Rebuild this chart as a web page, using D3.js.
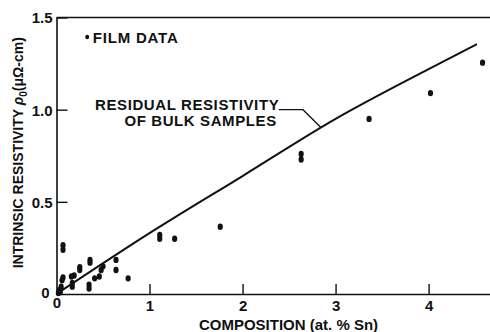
<!DOCTYPE html>
<meta charset="utf-8">
<script src="https://d3js.org/d3.v7.min.js"></script>
<style>
  body { margin: 0; background: #fff; }
  text { font-family: "Liberation Sans", Arial, sans-serif; font-weight: bold; fill: #111; }
</style>
<div id="chart"></div>
<script>
    // film data (composition at.% Sn, intrinsic resistivity)
    const filmX = [0.02, 0.03, 0.05, 0.04, 0.07, 0.07, 0.07, 0.06, 0.16, 0.17, 0.19, 0.17,
        0.25, 0.25, 0.36, 0.36, 0.35, 0.35, 0.41, 0.46, 0.48, 0.50, 0.64, 0.64, 0.77,
        1.11, 1.11, 1.27, 1.76, 2.63, 2.63, 3.36, 4.02, 4.58];
    const filmY = [0.005, 0.02, 0.04, 0.01, 0.265, 0.24, 0.09, 0.075, 0.095, 0.04, 0.10, 0.06,
        0.145, 0.13, 0.185, 0.17, 0.05, 0.03, 0.085, 0.095, 0.13, 0.15, 0.185, 0.13, 0.085,
        0.32, 0.30, 0.30, 0.365, 0.76, 0.73, 0.95, 1.09, 1.255];

    // residual resistivity of bulk samples
    const bulkX = [0, 1, 2, 3, 4, 4.52];
    const bulkY = [0, 0.33, 0.64, 0.95, 1.22, 1.355];

    const xTicks = [0, 1, 2, 3, 4];
    const yTicks = [0, 0.5, 1.0, 1.5];
    const yTickLabels = ["0", "0.5", "1.0", "1.5"];

    const width = 490, height = 332;

    const svg = d3.select("#chart").append("svg")
        .attr("width", width)
        .attr("height", height);

    const x = d3.scaleLinear().domain([0, 4.66]).range([56.5, 490]);
    const y = d3.scaleLinear().domain([0, 1.5]).range([294, 17.5]);

    // x axis, ticks pointing inward
    const xAxis = svg.append("g")
        .attr("transform", `translate(0, ${y(0)})`)
        .call(d3.axisBottom(x).tickValues(xTicks).tickSizeInner(-10).tickSizeOuter(0).tickPadding(3)
            .tickFormat(d3.format("d")));
    xAxis.select(".domain").attr("stroke-width", 1.6);
    xAxis.selectAll(".tick line").attr("stroke-width", 1.4);
    xAxis.selectAll(".tick text").attr("font-size", 15).attr("dy", "0.9em");
    xAxis.selectAll(".tick").filter(d => d === 0).select("text").attr("dy", "0.7em");

    // y axis
    const yAxis = svg.append("g")
        .attr("transform", `translate(${x(0)}, 0)`)
        .call(d3.axisLeft(y).tickValues(yTicks).tickSizeInner(-11).tickSizeOuter(0).tickPadding(4)
            .tickFormat((d, i) => yTickLabels[i]));
    yAxis.select(".domain").attr("stroke-width", 1.6);
    yAxis.selectAll(".tick line").attr("stroke-width", 1.4);
    yAxis.selectAll(".tick text").attr("font-size", 15).attr("dy", "0.36em");
    yAxis.selectAll(".tick").filter(d => d === 0).select("text").attr("dx", -3).attr("dy", "0.2em");
    yAxis.selectAll(".tick").filter(d => d === 0).select("line").remove();
    xAxis.selectAll(".tick").filter(d => d === 0).select("line").remove();
    svg.selectAll(".tick text").attr("fill", "#111");
    svg.selectAll(".domain, .tick line").attr("stroke", "#111");

    // top frame line
    svg.append("line")
        .attr("x1", x(0)).attr("x2", x(4.66))
        .attr("y1", y(1.5)).attr("y2", y(1.5))
        .attr("stroke", "#111").attr("stroke-width", 1.6);

    // bulk curve
    const bulk = bulkX.map((d, i) => [d, bulkY[i]]);
    svg.append("path")
        .datum(bulk)
        .attr("fill", "none")
        .attr("stroke", "#111")
        .attr("stroke-width", 2)
        .attr("d", d3.line().x(d => x(d[0])).y(d => y(d[1])).curve(d3.curveMonotoneX));

    // film dots
    svg.append("g").selectAll("ellipse")
        .data(filmX.map((d, i) => [d, filmY[i]]))
        .join("ellipse")
        .attr("cx", d => x(d[0]))
        .attr("cy", d => y(d[1]))
        .attr("rx", 2.6)
        .attr("ry", 3.2)
        .attr("fill", "#111");

    // legend
    svg.append("ellipse")
        .attr("cx", x(0.33)).attr("cy", y(1.394))
        .attr("rx", 2).attr("ry", 2.2).attr("fill", "#111");
    svg.append("text")
        .attr("x", x(0.39)).attr("y", y(1.362))
        .attr("font-size", 15)
        .attr("letter-spacing", 0.8)
        .text("FILM DATA");

    // annotation
    svg.append("text")
        .attr("x", x(0.414)).attr("y", y(1.0))
        .attr("font-size", 15)
        .attr("letter-spacing", 0.6)
        .text("RESIDUAL RESISTIVITY");
    svg.append("text")
        .attr("x", x(0.73)).attr("y", y(0.912))
        .attr("font-size", 15)
        .attr("letter-spacing", 0.6)
        .text("OF BULK SAMPLES");
    svg.append("path")
        .datum([[2.39, 1.0], [2.65, 1.0], [2.84, 0.905]])
        .attr("fill", "none")
        .attr("stroke", "#111")
        .attr("stroke-width", 1.3)
        .attr("d", d3.line().x(d => x(d[0])).y(d => y(d[1])));

    // axis titles
    svg.append("text")
        .attr("x", 288.5)
        .attr("y", 330)
        .attr("text-anchor", "middle")
        .attr("font-size", 15)
        .text("COMPOSITION (at. % Sn)");

    const yl = svg.append("text")
        .attr("transform", `translate(23, ${(y(0) + y(1.5)) / 2 - 3}) rotate(-90)`)
        .attr("text-anchor", "middle")
        .attr("font-size", 14);
    yl.append("tspan").text("INTRINSIC RESISTIVITY ");
    yl.append("tspan").attr("font-style", "italic").text("ρ");
    yl.append("tspan").attr("font-size", 10).attr("dy", 4).text("0");
    yl.append("tspan").attr("dy", -4).text("(μΩ-cm)");
</script>
